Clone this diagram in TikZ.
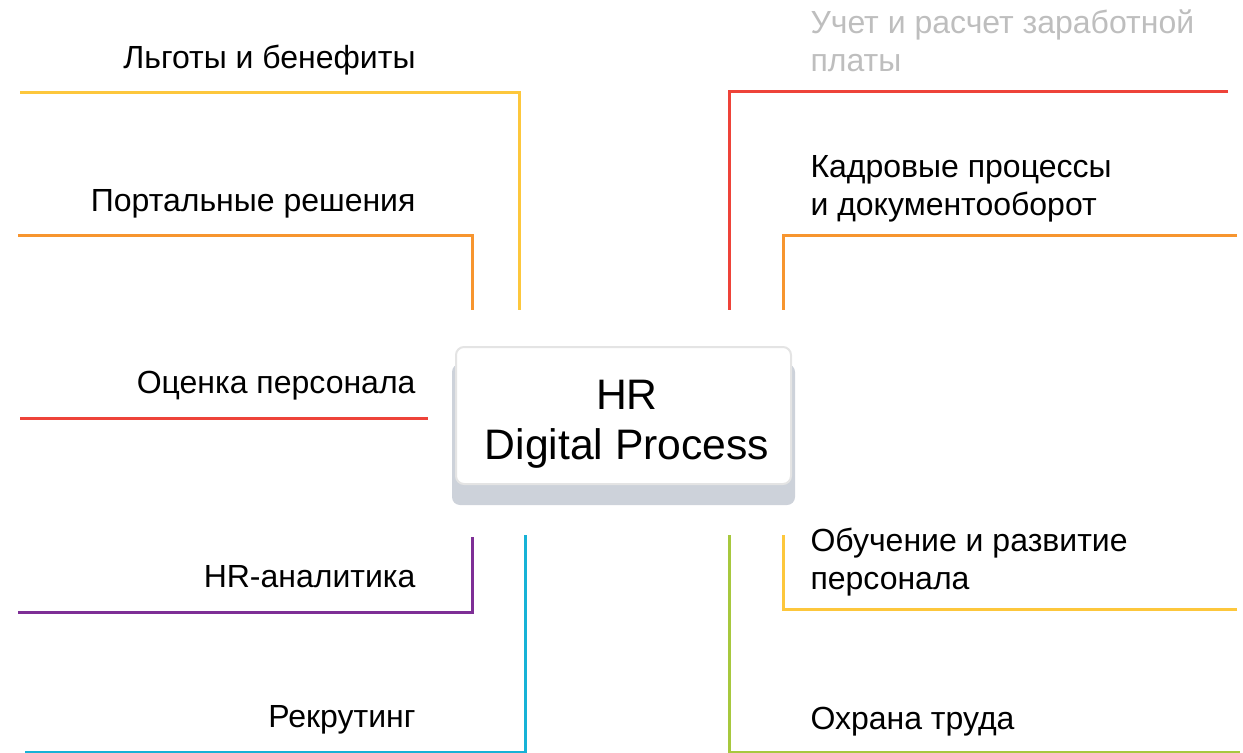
\documentclass[tikz,border=0pt]{standalone}
\usepackage{fontspec}
\setmainfont{Liberation Sans}
\definecolor{cYellow}{HTML}{FDC73C}
\definecolor{cOrange}{HTML}{F7952F}
\definecolor{cRed}{HTML}{EE4339}
\definecolor{cPurple}{HTML}{7E2F96}
\definecolor{cCyan}{HTML}{17B2D6}
\definecolor{cGreen}{HTML}{A7C83E}
\definecolor{cGrayText}{HTML}{BEBEBE}
\definecolor{cShadow}{HTML}{CDD2DA}
\definecolor{cBorder}{HTML}{E4E4E4}

\tikzset{every picture/.style={line width=0.75pt}}
\tikzset{
  branch/.style={line width=2.25pt},
  lbl/.style={inner sep=0pt, font=\fontsize{24}{28.5}\selectfont, align=left},
}

\begin{document}
\begin{tikzpicture}[x=0.75pt,y=0.75pt,yscale=-1,xscale=1]
\useasboundingbox (0,0) rectangle (1243,753);

%Rounded Rect [id:shadow] 
\fill [cShadow, rounded corners=6pt] (452,364) rectangle (795,505);
%Rounded Rect [id:centre] 
\draw [cBorder, fill=white, line width=1.5pt, rounded corners=6pt] (456,347) rectangle (791,484);

%Straight Lines [id:yellow left] 
\draw [branch, cYellow]  (20,92) -| (519,310) ;
%Straight Lines [id:orange left] 
\draw [branch, cOrange]  (18,235) -| (472,310) ;
%Straight Lines [id:red left] 
\draw [branch, cRed]  (20,418) -- (428,418) ;
%Straight Lines [id:purple left] 
\draw [branch, cPurple]  (18,612) -| (472,537) ;
%Straight Lines [id:cyan left] 
\draw [branch, cCyan]  (25,752) -| (525,535) ;
%Straight Lines [id:red right] 
\draw [branch, cRed]  (1228,91) -| (729,310) ;
%Straight Lines [id:orange right] 
\draw [branch, cOrange]  (1237,235) -| (783,310) ;
%Straight Lines [id:yellow right] 
\draw [branch, cYellow]  (1237,609) -| (783,535) ;
%Straight Lines [id:green right] 
\draw [branch, cGreen]  (1240,752) -| (729,535) ;

% Text Node
\node (hub) [inner sep=0pt, align=center, font=\fontsize{32}{37.5}\selectfont, anchor=base] at (627,459) {HR\\Digital Process};
% Text Node
\node (benefits) [lbl, anchor=base east] at (416,68) {Льготы и бенефиты};
% Text Node
\node (portal) [lbl, anchor=base east] at (416,211) {Портальные решения};
% Text Node
\node (assess) [lbl, anchor=base east] at (416,393) {Оценка персонала};
% Text Node
\node (analytics) [lbl, anchor=base east] at (416,587) {HR-аналитика};
% Text Node
\node (recruit) [lbl, anchor=base east] at (416,727) {Рекрутинг};
% Text Node
\node (payroll) [lbl, anchor=base west, text=cGrayText] at (810,71) {Учет и расчет заработной\\платы};
% Text Node
\node (records) [lbl, anchor=base west] at (810,215) {Кадровые процессы\\и документооборот};
% Text Node
\node (training) [lbl, anchor=base west] at (810,589) {Обучение и развитие\\персонала};
% Text Node
\node (safety) [lbl, anchor=base west] at (810,729) {Охрана труда};

\end{tikzpicture}
\end{document}
